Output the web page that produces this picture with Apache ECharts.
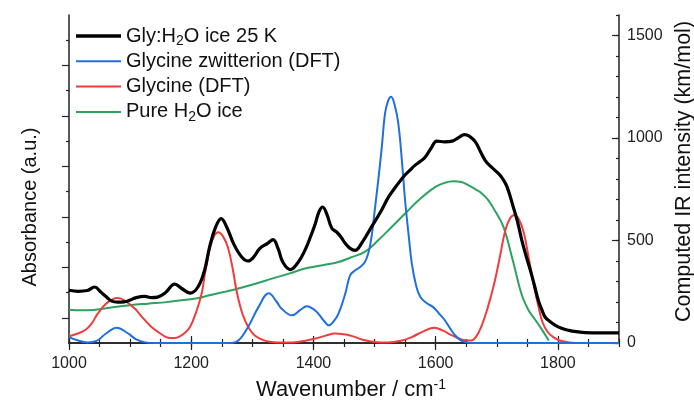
<!DOCTYPE html>
<html>
<head>
<meta charset="utf-8">
<title>Glycine IR spectra</title>
<script src="https://cdn.jsdelivr.net/npm/echarts@6/dist/echarts.min.js"></script>
<style>
  html, body { margin: 0; padding: 0; background: #fff; }
  #chart { width: 694px; height: 404px; }
</style>
</head>
<body>
<div id="chart"></div>
<script>
// Gly:H2O ice 25 K (left axis, a.u.)
const iceWn = [1000, 1015, 1030, 1042, 1052, 1060, 1070, 1080, 1090, 1100, 1110, 1124, 1135, 1145, 1158, 1173, 1185, 1198, 1211, 1222,
  1230, 1240, 1249, 1258, 1270, 1283, 1293, 1302, 1312, 1325, 1334, 1342, 1350, 1362, 1375, 1386, 1395, 1403, 1409, 1415,
  1422, 1430, 1438, 1445, 1452, 1460, 1468, 1480, 1495, 1510, 1523, 1535, 1547, 1558, 1566, 1575, 1583, 1592, 1602, 1615,
  1627, 1638, 1647, 1655, 1665, 1673, 1681, 1690, 1703, 1710, 1717, 1727, 1734, 1741, 1748, 1755, 1762, 1768, 1774, 1779,
  1787, 1796, 1806, 1818, 1830, 1845, 1870, 1900];
const iceAbs = [2.09, 2.05, 2.08, 2.22, 2.02, 1.85, 1.66, 1.62, 1.63, 1.70, 1.80, 1.85, 1.80, 1.82, 2.0, 2.33, 2.15, 1.98, 2.22, 2.9,
  3.80, 4.6, 4.93, 4.6, 3.9, 3.4, 3.25, 3.4, 3.74, 3.95, 4.10, 3.75, 3.2, 2.91, 3.2, 3.67, 4.2, 4.73, 5.2, 5.39,
  5.1, 4.55, 4.40, 4.2, 3.95, 3.75, 3.67, 4.0, 4.6, 5.2, 5.79, 6.2, 6.58, 6.85, 7.04, 7.2, 7.37, 7.7, 8.0, 7.97,
  8.0, 8.15, 8.26, 8.2, 7.97, 7.6, 7.24, 7.0, 6.71, 6.5, 6.18, 5.39, 4.8, 4.07, 3.45, 2.88, 2.25, 1.69, 1.3, 1.03,
  0.85, 0.70, 0.58, 0.50, 0.45, 0.41, 0.40, 0.40];

// Pure H2O ice (left axis, a.u.)
const waterWn = [1000, 1020, 1040, 1075, 1100, 1129, 1160, 1184, 1205, 1230, 1255, 1277, 1305, 1332, 1360, 1386, 1415, 1441, 1460,
  1484, 1506, 1528, 1550, 1572, 1599, 1615, 1629, 1642, 1654, 1666, 1676, 1686, 1698, 1711, 1727, 1741, 1752, 1762, 1772, 1785];
const waterAbs = [1.32, 1.30, 1.31, 1.43, 1.50, 1.56, 1.62, 1.69, 1.75, 1.89, 2.03, 2.16, 2.35, 2.55, 2.75, 2.95, 3.08, 3.21, 3.38,
  3.61, 4.07, 4.60, 5.13, 5.66, 6.18, 6.35, 6.41, 6.38, 6.25, 6.08, 5.92, 5.66, 5.2, 4.6, 3.2, 1.9, 1.3, 0.95, 0.6, 0.1];

// Glycine zwitterion DFT (right axis, km/mol)
const zwitWn = [1000, 1015, 1030, 1045, 1060, 1078, 1095, 1110, 1125, 1140, 1200, 1260, 1275, 1293, 1310, 1327, 1340, 1348, 1365, 1378,
  1389, 1400, 1408, 1418, 1425, 1433, 1441, 1452, 1460, 1468, 1476, 1484, 1490, 1495, 1500, 1506, 1512, 1517, 1522, 1527,
  1533, 1539, 1545, 1550, 1556, 1561, 1568, 1575, 1585, 1596, 1605, 1615, 1625, 1632, 1640, 1648, 1660, 1750, 1900];
const zwitInt = [29, 12, 3, 10, 45, 75, 50, 18, 3, 0, 0, 0, 8, 78, 175, 243, 200, 167, 135, 160,
  179, 165, 143, 105, 86, 105, 143, 240, 330, 354, 370, 394, 440, 516, 640, 792, 960, 1117, 1180, 1201,
  1160, 1068, 880, 695, 520, 387, 280, 224, 195, 175, 145, 111, 65, 37, 15, 5, 0, 0, 0];

// Glycine DFT (right axis, km/mol)
const glyWn = [1000, 1013, 1026, 1037, 1047, 1060, 1072, 1080, 1092, 1108, 1120, 1135, 1150, 1162, 1172, 1179, 1190, 1198, 1208, 1217,
  1222, 1231, 1238, 1244, 1252, 1260, 1268, 1274, 1281, 1288, 1296, 1304, 1318, 1332, 1350, 1366, 1385, 1402, 1420, 1435,
  1448, 1460, 1472, 1484, 1500, 1522, 1545, 1561, 1580, 1598, 1612, 1627, 1640, 1650, 1658, 1666, 1676, 1685, 1695, 1705,
  1714, 1722, 1729, 1736, 1744, 1752, 1760, 1768, 1775, 1783, 1792, 1803, 1818, 1830];
const glyInt = [33, 45, 62, 95, 143, 190, 214, 219, 205, 167, 125, 78, 45, 26, 24, 29, 50, 78, 150, 240,
  330, 467, 525, 540, 520, 467, 360, 257, 170, 110, 65, 37, 14, 5, 2, 3, 10, 21, 36, 46,
  43, 37, 25, 13, 5, 2, 12, 29, 57, 75, 60, 37, 20, 13, 12, 30, 90, 170, 280, 419,
  550, 610, 625, 605, 540, 420, 290, 180, 100, 55, 30, 12, 3, 0];

const xMajor = [1000, 1200, 1400, 1600, 1800];
const leftMajor = [1, 3, 5, 7, 9, 11];
const leftMinor = [2, 4, 6, 8, 10, 12];
const rightMajor = [0, 500, 1000, 1500];

const pairs = (xs, ys) => xs.map((x, i) => [x, ys[i]]);

const FONT = 'Arial, "Liberation Sans", sans-serif';
const AXIS_COLOR = '#222';
const THICK_ICON = 'path://M0,0 H45 V3.5 H0 Z';
const THIN_ICON = 'path://M0,0 H45 V2 H0 Z';

const chart = echarts.init(document.getElementById('chart'));

// 刻度只用来画线, 没有数据
const tickOnly = {
  axisLine: { show: false },
  axisLabel: { show: false },
  splitLine: { show: false }
};

chart.setOption({
  animation: false,
  textStyle: { fontFamily: FONT },
  grid: { left: 69, right: 75, top: 15, bottom: 61, outerBoundsMode: 'none' },
  legend: {
    left: 76,
    top: 24,
    padding: 0,
    orient: 'vertical',
    itemWidth: 45,
    itemHeight: 14,
    itemGap: 1.3,
    data: [
      { name: 'Gly:H2O ice 25 K', icon: THICK_ICON },
      { name: 'Glycine zwitterion (DFT)', icon: THIN_ICON },
      { name: 'Glycine (DFT)', icon: THIN_ICON },
      { name: 'Pure H2O ice', icon: THIN_ICON }
    ],
    formatter: name => name.replace('H2O', 'H{sub|2}O'),
    textStyle: {
      fontSize: 20,
      lineHeight: 24,
      color: '#111',
      fontFamily: FONT,
      rich: {
        sub: { fontSize: 14, lineHeight: 14, verticalAlign: 'bottom', fontFamily: FONT, color: '#111' }
      }
    }
  },
  xAxis: [
    {
      type: 'value', position: 'bottom', min: 1000, max: 1900, interval: 50,
      axisLine: { show: true, lineStyle: { color: AXIS_COLOR, width: 1.5 } },
      axisTick: { show: true, length: 4, lineStyle: { color: AXIS_COLOR, width: 1.2 } },
      axisLabel: { customValues: xMajor, fontSize: 16, color: '#222', margin: 13, formatter: v => String(v) },
      splitLine: { show: false },
      name: 'Wavenumber / cm{sup|-1}',
      nameLocation: 'middle',
      nameGap: 35,
      nameTextStyle: {
        fontSize: 22, color: '#111', lineHeight: 24, padding: [0, 0, 0, 14],
        rich: { sup: { fontSize: 14, lineHeight: 14, verticalAlign: 'top', color: '#111' } }
      }
    },
    Object.assign({
      type: 'value', position: 'bottom', min: 1000, max: 1900,
      axisTick: { show: true, customValues: xMajor, length: 7, lineStyle: { color: AXIS_COLOR, width: 1.2 } }
    }, tickOnly),
    {
      type: 'value', position: 'top', min: 1000, max: 1900, interval: 50,
      axisLine: { show: true, lineStyle: { color: AXIS_COLOR, width: 1.5 } },
      axisTick: { show: true, length: 4, lineStyle: { color: AXIS_COLOR, width: 1.2 } },
      axisLabel: { show: false },
      splitLine: { show: false }
    },
    Object.assign({
      type: 'value', position: 'top', min: 1000, max: 1900,
      axisTick: { show: true, customValues: xMajor, length: 7, lineStyle: { color: AXIS_COLOR, width: 1.2 } }
    }, tickOnly)
  ],
  yAxis: [
    {
      type: 'value', position: 'left', min: 0, max: 13,
      axisLine: { show: true, lineStyle: { color: AXIS_COLOR, width: 1.5 } },
      axisTick: { show: true, customValues: leftMinor, length: 3, lineStyle: { color: AXIS_COLOR, width: 1.2 } },
      axisLabel: { show: false },
      splitLine: { show: false },
      name: 'Absorbance (a.u.)',
      nameLocation: 'middle',
      nameGap: 29,
      nameTextStyle: { fontSize: 20, color: '#111', padding: [0, 56, 0, 0] }
    },
    Object.assign({
      type: 'value', position: 'left', min: 0, max: 13,
      axisTick: { show: true, customValues: leftMajor, length: 7, lineStyle: { color: AXIS_COLOR, width: 1.2 } }
    }, tickOnly),
    {
      type: 'value', position: 'right', min: 0, max: 1600, interval: 100,
      axisLine: { show: true, lineStyle: { color: AXIS_COLOR, width: 1.5 } },
      axisTick: { show: true, inside: true, length: 3, lineStyle: { color: AXIS_COLOR, width: 1.2 } },
      axisLabel: { customValues: rightMajor, fontSize: 16, color: '#222', margin: 8, formatter: v => String(v) },
      splitLine: { show: false },
      name: 'Computed IR intensity (km/mol)',
      nameLocation: 'middle',
      nameGap: 53,
      nameRotate: 90,
      nameTextStyle: { fontSize: 21.5, color: '#111', padding: [0, 0, 0, 15] }
    },
    Object.assign({
      type: 'value', position: 'right', min: 0, max: 1600,
      axisTick: { show: true, inside: true, customValues: rightMajor, length: 7, lineStyle: { color: AXIS_COLOR, width: 1.2 } }
    }, tickOnly)
  ],
  series: [
    {
      name: 'Pure H2O ice', type: 'line', xAxisIndex: 0, yAxisIndex: 0,
      symbol: 'none', smooth: 0.4, z: 2,
      lineStyle: { color: '#2ca25f', width: 2 }, itemStyle: { color: '#2ca25f' },
      data: pairs(waterWn, waterAbs)
    },
    {
      name: 'Glycine (DFT)', type: 'line', xAxisIndex: 0, yAxisIndex: 2,
      symbol: 'none', smooth: 0.4, z: 3,
      lineStyle: { color: '#f03c3c', width: 2 }, itemStyle: { color: '#f03c3c' },
      data: pairs(glyWn, glyInt)
    },
    {
      name: 'Glycine zwitterion (DFT)', type: 'line', xAxisIndex: 0, yAxisIndex: 2,
      symbol: 'none', smooth: 0.4, z: 4,
      lineStyle: { color: '#1f6fe0', width: 2 }, itemStyle: { color: '#1f6fe0' },
      data: pairs(zwitWn, zwitInt)
    },
    {
      name: 'Gly:H2O ice 25 K', type: 'line', xAxisIndex: 0, yAxisIndex: 0,
      symbol: 'none', smooth: 0.4, z: 5,
      lineStyle: { color: '#000', width: 3.2 }, itemStyle: { color: '#000' },
      data: pairs(iceWn, iceAbs)
    }
  ]
});
</script>
</body>
</html>
